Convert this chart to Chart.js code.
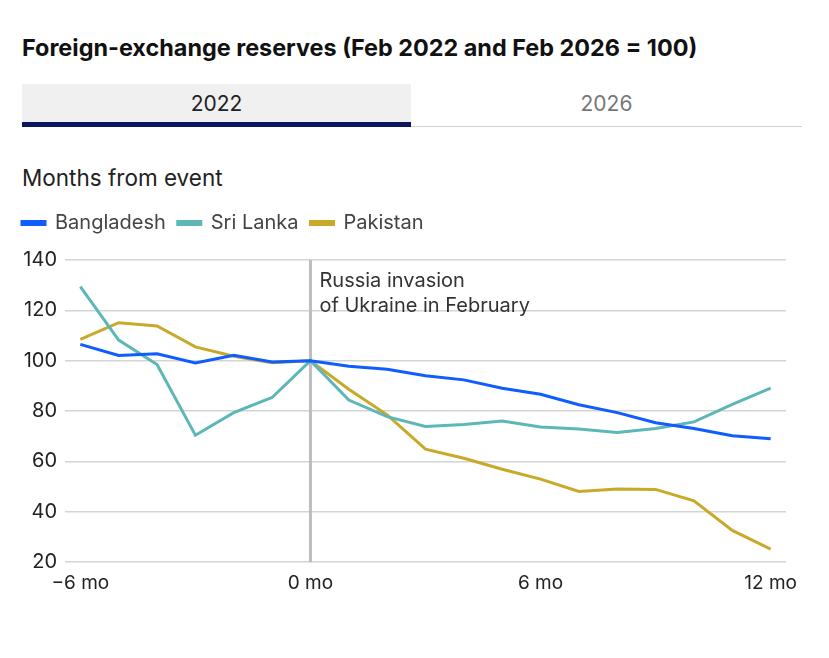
<!DOCTYPE html>
<html>
<head>
<meta charset="utf-8">
<script src="https://cdn.jsdelivr.net/npm/chart.js@4"></script>
<style>
  body { margin: 0; background: #fff; font-family: Inter, "Noto Sans", sans-serif; }
  #wrap { position: relative; width: 829px; height: 658px; }
  h1 { position: absolute; left: 22px; top: 33px; margin: 0; font-size: 23.4px; font-weight: 700; color: #111; }
  .tab { position: absolute; top: 84px; height: 38px; line-height: 40px; text-align: center; font-size: 21px; }
  #t1 { left: 22px; width: 389px; background: #f0f0f0; color: #222; border-bottom: 5px solid #0b1660; }
  #t2 { left: 411px; width: 391px; color: #777; border-bottom: 1px solid #d0d0d0; height: 42px; }
  #sub { position: absolute; left: 22px; top: 164px; font-size: 22.5px; color: #222; }
  #box { position: absolute; left: 0; top: 200px; width: 829px; height: 411px; }
</style>
</head>
<body>
<div id="wrap">
  <h1>Foreign-exchange reserves (Feb 2022 and Feb 2026 = 100)</h1>
  <div class="tab" id="t1">2022</div>
  <div class="tab" id="t2">2026</div>
  <div id="sub">Months from event</div>
  <div id="box"><canvas id="c"></canvas></div>
</div>
<script>
const months = [-6, -5, -4, -3, -2, -1, 0, 1, 2, 3, 4, 5, 6, 7, 8, 9, 10, 11, 12]
const bangladesh = [106.5, 102.1, 102.8, 99.1, 102.2, 99.5, 100, 97.8, 96.6, 94.0, 92.4, 89.1, 86.7, 82.5, 79.4, 75.4, 73.1, 70.2, 69.0]
const sriLanka = [129.4, 108.2, 98.5, 70.4, 79.4, 85.4, 100, 84.4, 77.8, 73.9, 74.7, 76.1, 73.7, 72.9, 71.5, 73.1, 75.7, 82.7, 89.1]
const pakistan = [108.5, 115.1, 113.8, 105.5, 101.8, 99.2, 100, 88.7, 78.5, 64.9, 61.3, 56.9, 53.0, 48.1, 49.1, 48.9, 44.4, 32.6, 25.2]
const xTicks = [-6, 0, 6, 12]
const yTicks = [20, 40, 60, 80, 100, 120, 140]
const eventMonth = 0
const eventLabel = ['Russia invasion', 'of Ukraine in February']

const toPoints = (vals) => vals.map((v, i) => ({ x: months[i], y: v }))

const eventLine = {
  id: 'eventLine',
  beforeDatasetsDraw(chart) {
    const { ctx, chartArea, scales } = chart
    const x = scales.x.getPixelForValue(eventMonth)
    ctx.save()
    ctx.strokeStyle = '#bdbdbd'
    ctx.lineWidth = 3
    ctx.beginPath()
    ctx.moveTo(x, chartArea.top)
    ctx.lineTo(x, chartArea.bottom)
    ctx.stroke()
    ctx.fillStyle = '#333'
    ctx.font = '20px Inter'
    ctx.textBaseline = 'middle'
    ctx.fillText(eventLabel[0], x + 9, chartArea.top + 21)
    ctx.fillText(eventLabel[1], x + 9, chartArea.top + 46)
    ctx.restore()
  },
}

const legendHeight = {
  id: 'legendHeight',
  beforeInit(chart) {
    const fit = chart.legend.fit
    chart.legend.fit = function () {
      fit.bind(chart.legend)()
      this.height = 59
    }
  },
}

const line = (label, data, color) => ({
  label,
  data: toPoints(data),
  borderColor: color,
  backgroundColor: color,
  borderWidth: 3,
  pointRadius: 0,
  tension: 0,
})

/* eslint-disable no-new */
new Chart(document.getElementById('c'), {
  type: 'line',
  data: {
    datasets: [
      line('Bangladesh', bangladesh, '#0f5cff'),
      line('Sri Lanka', sriLanka, '#5db7b7'),
      line('Pakistan', pakistan, '#c8a928'),
    ],
  },
  plugins: [eventLine, legendHeight],
  options: {
    responsive: true,
    maintainAspectRatio: false,
    animation: false,
    layout: { padding: { left: 10, right: 43, top: 1, bottom: 14 } },
    plugins: {
      tooltip: { enabled: false },
      legend: {
        position: 'top',
        align: 'start',
        labels: {
          boxWidth: 23,
          boxHeight: 3,
          padding: 12,
          color: '#444',
          font: { family: 'Inter', size: 20 },
        },
      },
    },
    scales: {
      x: {
        type: 'linear',
        min: -6.4,
        max: 12.4,
        grid: { display: false },
        border: { display: false },
        afterBuildTicks: (s) => { s.ticks = xTicks.map((v) => ({ value: v })) },
        ticks: {
          padding: 2,
          color: '#222',
          font: { family: 'Inter', size: 19 },
          maxRotation: 0,
          callback: (v) => (v < 0 ? '\u2212' + Math.abs(v) : v) + ' mo',
        },
      },
      y: {
        min: 20,
        max: 140,
        afterFit: (s) => { s.width = 55 },
        afterBuildTicks: (s) => { s.ticks = yTicks.map((v) => ({ value: v })) },
        grid: { color: '#d4d4d4', lineWidth: 1.5, drawTicks: false },
        border: { display: false },
        ticks: {
          padding: 8,
          color: '#222',
          font: { family: 'Inter', size: 20 },
        },
      },
    },
  },
})
</script>
</body>
</html>
